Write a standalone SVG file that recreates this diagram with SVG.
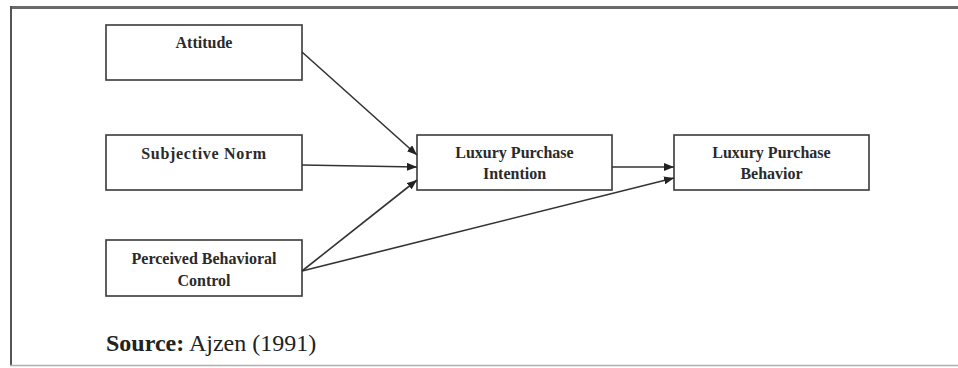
<svg xmlns="http://www.w3.org/2000/svg" width="958" height="368" viewBox="0 0 958 368">
  <style>
    .box { fill: #ffffff; stroke: #3a3a3a; stroke-width: 1.6; }
    .lbl { font-family: "Liberation Serif", "Times New Roman", serif; font-weight: bold; font-size: 16px; fill: #2a2a2a; text-anchor: middle; }
    .edge { stroke: #333333; stroke-width: 1.6; fill: none; marker-end: url(#arrow); }
    .src { font-family: "Liberation Serif", "Times New Roman", serif; font-size: 24px; fill: #222222; }
  </style>
  <defs>
    <marker id="arrow" viewBox="0 0 10 8" refX="10" refY="4" markerWidth="10" markerHeight="8" markerUnits="userSpaceOnUse" orient="auto">
      <path d="M0,0 L10,4 L0,8 Z" fill="#222222"/>
    </marker>
  </defs>

  <rect x="0" y="0" width="958" height="368" fill="#ffffff"/>

  <!-- frame -->
  <g id="frame">
    <line x1="10" y1="7.5" x2="958" y2="7.5" stroke="#6a6a6a" stroke-width="3"/>
    <line x1="11" y1="6" x2="11" y2="366" stroke="#555555" stroke-width="2"/>
    <line x1="10" y1="365.5" x2="958" y2="365.5" stroke="#b0b0b0" stroke-width="1.5"/>
  </g>

  <g id="attitude">
    <rect class="box" x="106" y="25" width="196" height="55"/>
    <text class="lbl" x="204" y="48">Attitude</text>
  </g>

  <g id="subjective-norm">
    <rect class="box" x="106" y="135" width="196" height="55"/>
    <text class="lbl" x="204" y="159" letter-spacing="0.7">Subjective Norm</text>
  </g>

  <g id="perceived-control">
    <rect class="box" x="106" y="240" width="196" height="56"/>
    <text class="lbl" x="204" y="264">Perceived Behavioral</text>
    <text class="lbl" x="204" y="286">Control</text>
  </g>

  <g id="intention">
    <rect class="box" x="417" y="135" width="195" height="55"/>
    <text class="lbl" x="514.5" y="158">Luxury Purchase</text>
    <text class="lbl" x="514.5" y="179">Intention</text>
  </g>

  <g id="behavior">
    <rect class="box" x="674" y="135" width="195" height="55"/>
    <text class="lbl" x="771.5" y="158">Luxury Purchase</text>
    <text class="lbl" x="771.5" y="179">Behavior</text>
  </g>

  <g id="connectors">
    <line class="edge" x1="302" y1="52" x2="417" y2="155"/>
    <line class="edge" x1="302" y1="165" x2="417" y2="167"/>
    <line class="edge" x1="302" y1="271" x2="417" y2="180"/>
    <line class="edge" x1="302" y1="271" x2="674" y2="178"/>
    <line class="edge" x1="612" y1="167" x2="674" y2="167"/>
  </g>

  <text class="src" x="106" y="351"><tspan font-weight="bold">Source:</tspan> Ajzen (1991)</text>
</svg>
